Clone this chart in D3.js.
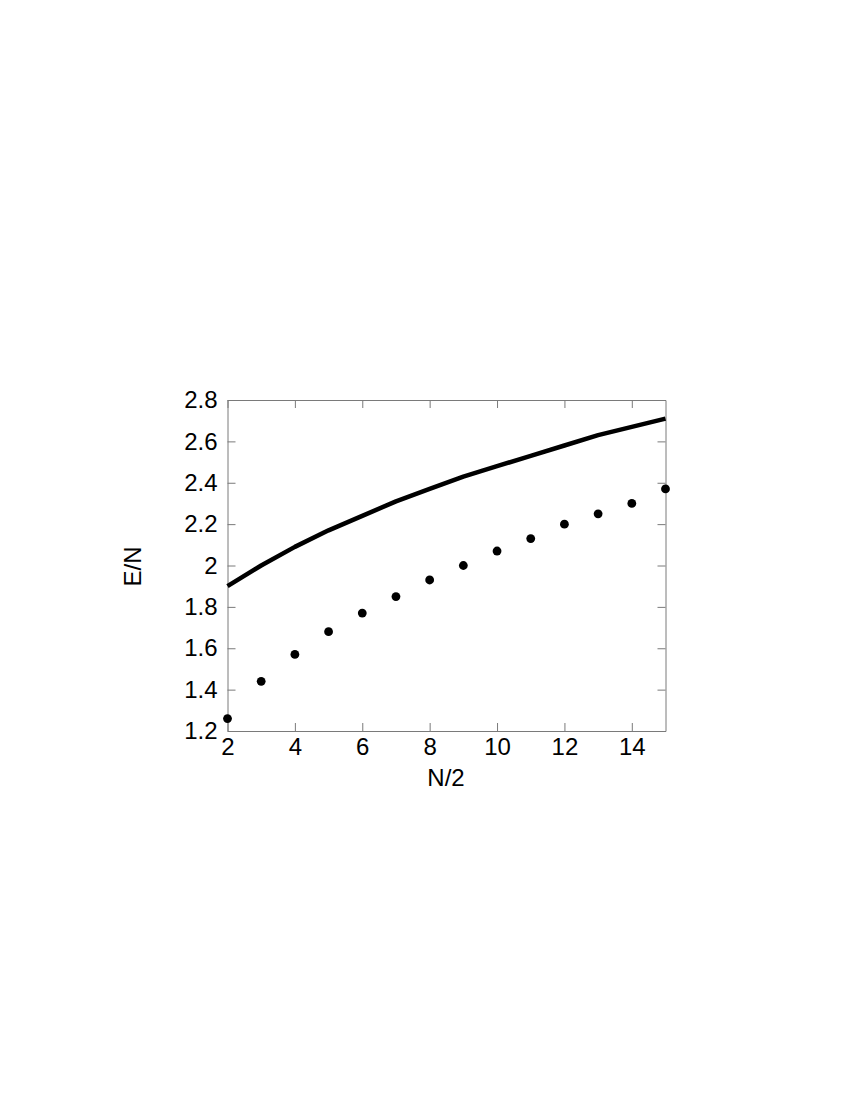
<!DOCTYPE html>
<html lang="en">
<head>
<meta charset="utf-8">
<style>
body {
	margin: 0;
	background: #fff;
	font-family: "Liberation Sans", Arial, Helvetica, sans-serif;
}
.axis path, .axis line {
	stroke: #7a7a7a;
	stroke-width: 1;
}
.axis text {
	font-family: "Liberation Sans", Arial, Helvetica, sans-serif;
	font-size: 24px;
	fill: #000;
}
</style>
<title>E/N vs N/2</title>
<script src="https://cdn.jsdelivr.net/npm/d3@7"></script>
</head>
<body>
<script>

// values
var halfN = [2, 3, 4, 5, 6, 7, 8, 9, 10, 11, 12, 13, 14, 15];
var lineValues = [1.90, 2.00, 2.09, 2.17, 2.24, 2.31, 2.37, 2.43, 2.48, 2.53, 2.58, 2.63, 2.67, 2.71];
var dotValues = [1.26, 1.44, 1.57, 1.68, 1.77, 1.85, 1.93, 2.00, 2.07, 2.13, 2.20, 2.25, 2.30, 2.37];
var xTicks = [2, 4, 6, 8, 10, 12, 14];
var yTicks = [1.2, 1.4, 1.6, 1.8, 2.0, 2.2, 2.4, 2.6, 2.8];

var width = 850,
	height = 1100;

var margin = {left: 227.5, top: 400, right: 850 - 665.5, bottom: 1100 - 731};
var w = width - margin.left - margin.right,
	h = height - margin.top - margin.bottom;

var svg = d3.select("body")
	.append("svg")
	.attr("width", width)
	.attr("height", height);

var g = svg.append("g")
	.attr("transform", "translate(" + margin.left + "," + margin.top + ")");

var x = d3.scaleLinear().domain([2, 15]).range([0, w]);
var y = d3.scaleLinear().domain([1.2, 2.8]).range([h, 0]);

var fmtY = function(d) { return d === 2 ? "2" : d3.format(".1f")(d); };

// frame with inward ticks on all four sides
g.append("g").attr("class", "axis")
	.attr("transform", "translate(0," + h + ")")
	.call(d3.axisBottom(x).tickValues(xTicks).tickSizeInner(-8).tickSizeOuter(0).tickPadding(7));

g.append("g").attr("class", "axis")
	.call(d3.axisTop(x).tickValues(xTicks).tickSizeInner(-8).tickSizeOuter(0).tickFormat(""));

g.append("g").attr("class", "axis")
	.call(d3.axisLeft(y).tickValues(yTicks).tickFormat(fmtY).tickSizeInner(-8).tickSizeOuter(0).tickPadding(10));

g.append("g").attr("class", "axis")
	.attr("transform", "translate(" + w + ",0)")
	.call(d3.axisRight(y).tickValues(yTicks).tickSizeInner(-8).tickSizeOuter(0).tickFormat(""));

// data
var pts = halfN.map(function(n, i) { return {n: n, line: lineValues[i], dot: dotValues[i]}; });

var line = d3.line()
	.x(function(d) { return x(d.n); })
	.y(function(d) { return y(d.line); });

g.append("path")
	.datum(pts)
	.attr("d", line)
	.attr("fill", "none")
	.attr("stroke", "#000")
	.attr("stroke-width", 4.5)
	.attr("stroke-linejoin", "round");

g.selectAll(".dot")
	.data(pts)
	.enter()
	.append("circle")
	.attr("class", "dot")
	.attr("cx", function(d) { return x(d.n); })
	.attr("cy", function(d) { return y(d.dot); })
	.attr("r", 4.4)
	.attr("fill", "#000");

// axis titles
svg.append("text")
	.attr("x", margin.left + w / 2 - 0.5)
	.attr("y", 785.5)
	.attr("text-anchor", "middle")
	.style("font-size", "24px")
	.text("N/2");

svg.append("text")
	.attr("transform", "translate(140.5,566.5) rotate(-90)")
	.attr("text-anchor", "middle")
	.style("font-size", "24px")
	.text("E/N");

</script>
</body>
</html>
